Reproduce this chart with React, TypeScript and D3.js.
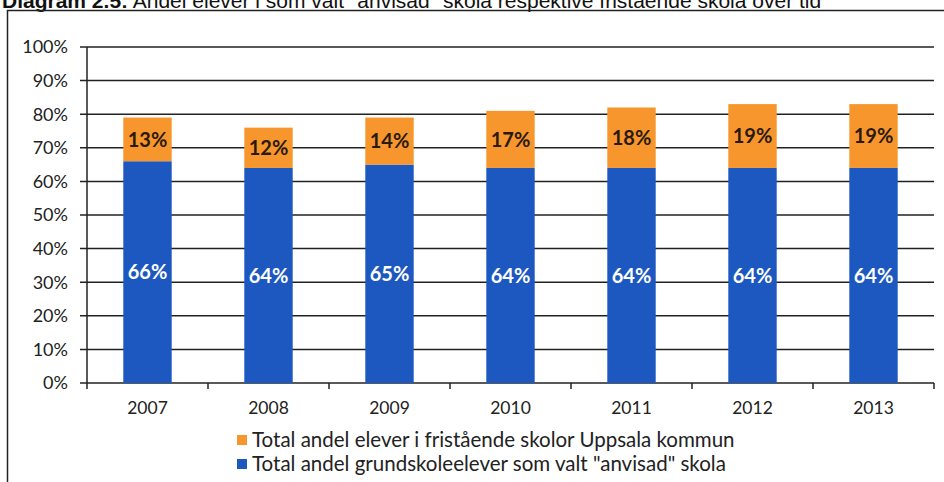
import React from "react";
import * as d3 from "d3";

const years = ["2007", "2008", "2009", "2010", "2011", "2012", "2013"];
const anvisad = [66, 64, 65, 64, 64, 64, 64];
const fristaende = [13, 12, 14, 17, 18, 19, 19];
const yTicks = [0, 10, 20, 30, 40, 50, 60, 70, 80, 90, 100];
const legendLabels = [
  "Total andel elever i fristående skolor Uppsala kommun",
  "Total andel grundskoleelever som valt \"anvisad\" skola",
];
const titleBold = "Diagram 2.5:";
const titleRest = " Andel elever i som valt \"anvisad\" skola respektive fristående skola över tid";

const BLUE = "#1d58c0";
const ORANGE = "#f7962c";
const FONT = "Lato, 'Open Sans', sans-serif";

export default function App() {
  const W = 944, H = 482;
  const x0 = 87, x1 = 934;
  const y = d3.scaleLinear().domain([0, 100]).range([383, 47]);
  const x = d3.scaleBand().domain(years).range([x0, x1]).paddingInner(0.6).paddingOuter(0.3);
  const xb = d3.scaleBand().domain(years).range([x0, x1]);
  return (
    <svg width={W} height={H} style={{ position: "absolute", left: 0, top: 0, background: "#fff" }}>
      <text x={2} y={8} fontFamily="'Liberation Sans', Arial, sans-serif" fontSize={21} fill="#111">
        <tspan fontWeight="bold">{titleBold}</tspan>
        <tspan>{titleRest}</tspan>
      </text>
      <path d={`M7.5,${H} V10.5 H${W}`} fill="none" stroke="#222" strokeWidth={1.5} />
      {yTicks.map((t) => (
        <g key={t}>
          <line x1={80} x2={x1} y1={y(t)} y2={y(t)} stroke="#222" strokeWidth={1.5} />
          <text x={68} y={y(t)} dy="0.36em" textAnchor="end" fontFamily={FONT} fontSize={18} fill="#222">
            {t}%
          </text>
        </g>
      ))}
      <line x1={x0} x2={x0} y1={y(100)} y2={y(0) + 6} stroke="#222" strokeWidth={1.5} />
      {years.map((yr) => (
        <line key={yr} x1={xb(yr)! + xb.bandwidth()} x2={xb(yr)! + xb.bandwidth()} y1={y(0)} y2={y(0) + 6} stroke="#222" strokeWidth={1.5} />
      ))}
      {years.map((yr, i) => {
        const bx = x(yr)!;
        const bw = x.bandwidth();
        const cx = bx + bw / 2;
        const b = anvisad[i];
        const f = fristaende[i];
        return (
          <g key={yr}>
            <rect x={bx} y={y(b)} width={bw} height={y(0) - y(b)} fill={BLUE} />
            <rect x={bx} y={y(b + f)} width={bw} height={y(b) - y(b + f)} fill={ORANGE} />
            <text x={cx} y={(y(0) + y(b)) / 2} dy="0.36em" textAnchor="middle" fontFamily={FONT} fontWeight="bold" fontSize={20} fill="#fff">
              {b}%
            </text>
            <text x={cx} y={(y(b) + y(b + f)) / 2} dy="0.36em" textAnchor="middle" fontFamily={FONT} fontWeight="bold" fontSize={20} fill="#2a1a10">
              {f}%
            </text>
            <text x={cx} y={414} textAnchor="middle" fontFamily={FONT} fontSize={17.5} fill="#222">
              {yr}
            </text>
          </g>
        );
      })}
      {legendLabels.map((l, i) => (
        <g key={l} transform={`translate(237, ${440 + i * 24})`}>
          <rect x={0} y={-5} width={10} height={10} fill={i === 0 ? ORANGE : BLUE} />
          <text x={15} y={0} dy="0.36em" fontFamily={FONT} fontSize={20.5} fill="#222">
            {l}
          </text>
        </g>
      ))}
    </svg>
  );
}
